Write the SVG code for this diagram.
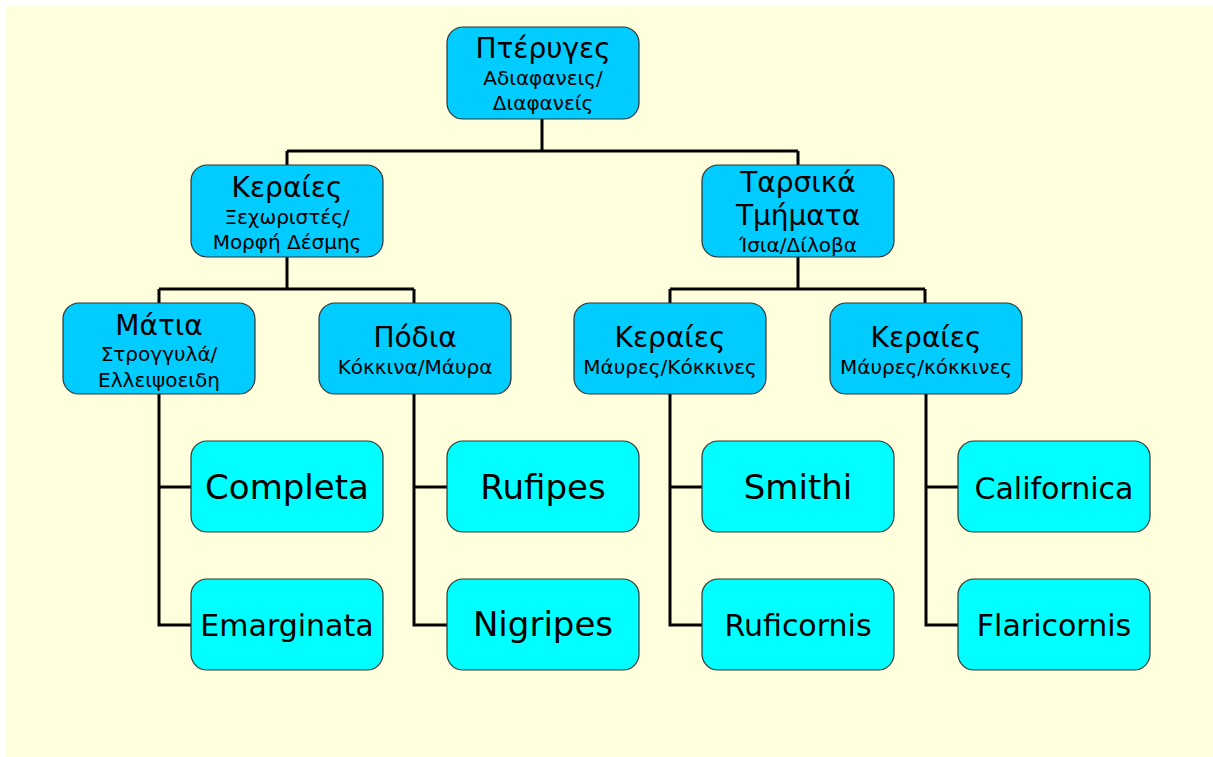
<svg xmlns="http://www.w3.org/2000/svg" width="1213" height="757" viewBox="0 0 1213 757">
<style>
text{font-family:"DejaVu Sans","Noto Sans",sans-serif;fill:#000;text-anchor:middle}
.in{fill:#00CCFF;stroke:#333;stroke-width:1.2}
.lf{fill:#00FFFF;stroke:#333;stroke-width:1.2}
.t1{font-size:28px}
.t2{font-size:20px}
.big{font-size:34px}
.mid{font-size:30px}
#connectors path{fill:none;stroke:#000;stroke-width:3}
</style>
<rect x="0" y="0" width="1213" height="757" fill="#ffffff"/>
<rect x="6" y="6" width="1207" height="751" fill="#FFFFDD"/>
<g id="connectors">
<path d="M542 119V151M287 151H798M287 151V165M798 151V165"/>
<path d="M287 257V289M159 289H414M159 289V303M414 289V303"/>
<path d="M798 257V289M670 289H925M670 289V303M925 289V303"/>
<path d="M159 394V625H191M159 487H191"/>
<path d="M414 394V625H447M414 487H447"/>
<path d="M670 394V625H702M670 487H702"/>
<path d="M926 394V625H958M926 487H958"/>
</g>
<g id="n-root"><rect class="in" x="447" y="27" width="192" height="92" rx="16"/><text class="t1" x="543" y="58">Πτέρυγες</text><text class="t2" x="543" y="85">Αδιαφανεις/</text><text class="t2" x="543" y="110">Διαφανείς</text></g>
<g id="n-keraies1"><rect class="in" x="191" y="165" width="192" height="92" rx="16"/><text class="t1" x="287" y="197">Κεραίες</text><text class="t2" x="287" y="224">Ξεχωριστές/</text><text class="t2" x="287" y="249">Μορφή Δέσμης</text></g>
<g id="n-tarsika"><rect class="in" x="702" y="165" width="192" height="92" rx="16"/><text class="t1" x="798" y="192">Ταρσικά</text><text class="t1" x="798" y="225">Τμήματα</text><text class="t2" x="798" y="252">Ίσια/Δίλοβα</text></g>
<g id="n-matia"><rect class="in" x="63" y="303" width="192" height="91" rx="16"/><text class="t1" x="159" y="335">Μάτια</text><text class="t2" x="159" y="361">Στρογγυλά/</text><text class="t2" x="159" y="387">Ελλειψοειδη</text></g>
<g id="n-podia"><rect class="in" x="319" y="303" width="192" height="91" rx="16"/><text class="t1" x="415" y="347">Πόδια</text><text class="t2" x="415" y="374">Κόκκινα/Μάυρα</text></g>
<g id="n-keraies2"><rect class="in" x="574" y="303" width="192" height="91" rx="16"/><text class="t1" x="670" y="347">Κεραίες</text><text class="t2" x="670" y="374">Μάυρες/Κόκκινες</text></g>
<g id="n-keraies3"><rect class="in" x="830" y="303" width="192" height="91" rx="16"/><text class="t1" x="926" y="347">Κεραίες</text><text class="t2" x="926" y="374">Μάυρες/κόκκινες</text></g>
<g id="n-completa"><rect class="lf" x="191" y="441" width="192" height="91" rx="16"/><text class="big" x="287" y="499">Completa</text></g>
<g id="n-emarginata"><rect class="lf" x="191" y="579" width="192" height="91" rx="16"/><text class="mid" x="287" y="636">Emarginata</text></g>
<g id="n-rufipes"><rect class="lf" x="447" y="441" width="192" height="91" rx="16"/><text class="big" x="543" y="499">Rufipes</text></g>
<g id="n-nigripes"><rect class="lf" x="447" y="579" width="192" height="91" rx="16"/><text class="big" x="543" y="636">Nigripes</text></g>
<g id="n-smithi"><rect class="lf" x="702" y="441" width="192" height="91" rx="16"/><text class="big" x="798" y="499">Smithi</text></g>
<g id="n-ruficornis"><rect class="lf" x="702" y="579" width="192" height="91" rx="16"/><text class="mid" x="798" y="636">Ruficornis</text></g>
<g id="n-californica"><rect class="lf" x="958" y="441" width="192" height="91" rx="16"/><text class="mid" x="1054" y="499">Californica</text></g>
<g id="n-flaricornis"><rect class="lf" x="958" y="579" width="192" height="91" rx="16"/><text class="mid" x="1054" y="636">Flaricornis</text></g>
</svg>
